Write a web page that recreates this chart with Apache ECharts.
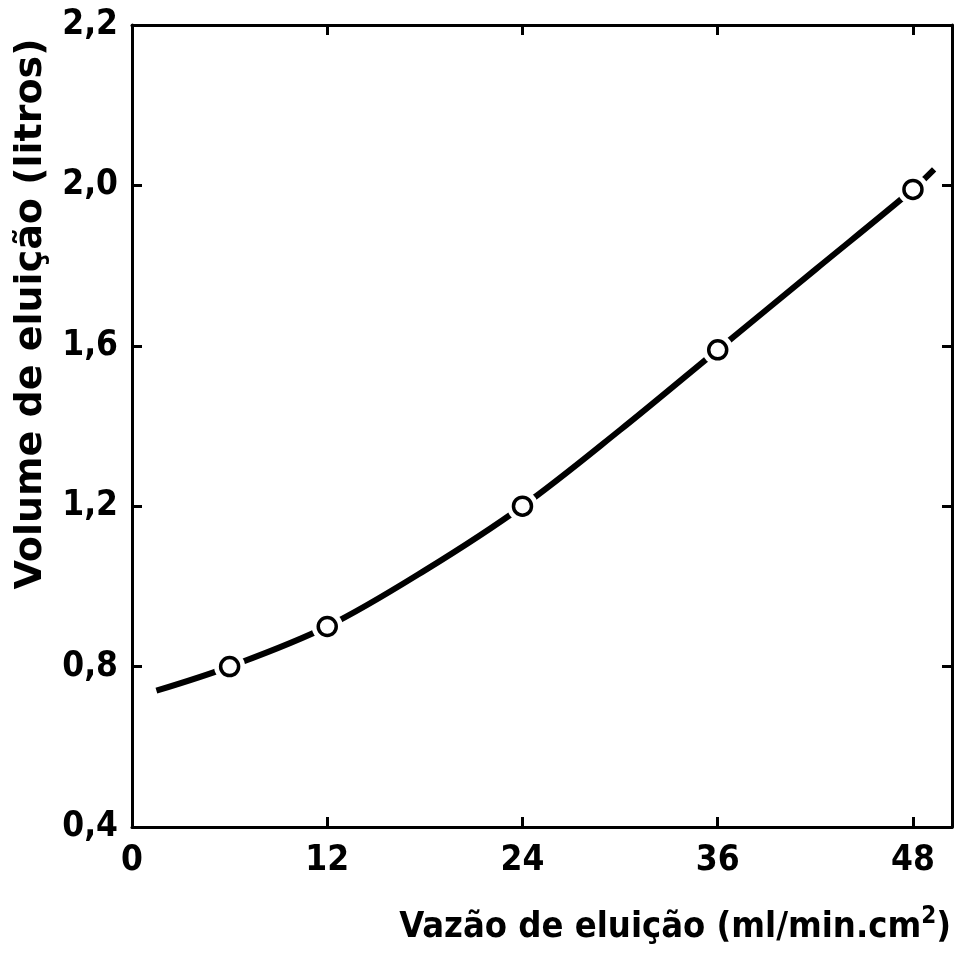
<!DOCTYPE html>
<html>
<head>
<meta charset="utf-8">
<script src="https://cdn.jsdelivr.net/npm/echarts@6/dist/echarts.min.js"></script>
<style>
  html, body { margin: 0; padding: 0; background: #fff; }
  #chart { width: 963px; height: 955px; }
</style>
</head>
<body>
<div id="chart"></div>
<script>
// measured points (open circles)
const flowRates = [6, 12, 24, 36, 48];
const elutionVolumes = [0.80, 0.90, 1.20, 1.59, 1.99];

// the hand-drawn curve, incl. its two loose ends
const curveX = [1.5, 6, 12, 18, 24, 30, 36, 42, 48, 49.3];
const curveY = [0.74, 0.80, 0.90, 1.04, 1.20, 1.39, 1.59, 1.79, 1.99, 2.04];

// tick labels
const xTicks = [0, 12, 24, 36, 48];
const yTicks = [0.4, 0.8, 1.2, 1.6, 2.0, 2.4];
const yTickLabels = ['0,4', '0,8', '1,2', '1,6', '2,0', '2,2']; // top one is printed "2,2" in the original

const FONT = '"DejaVu Sans Condensed", "DejaVu Sans", sans-serif';
const frame = { show: true, onZero: false, lineStyle: { color: '#000', width: 3 } };
const tick = { show: true, inside: true, length: 10, lineStyle: { color: '#000', width: 3 } };
const labelFont = { color: '#000', fontSize: 35, fontWeight: 'bold', fontFamily: FONT };

function xLabel(v) {
  return xTicks.indexOf(v) >= 0 ? String(v) : '';
}
function yLabel(v) {
  const i = yTicks.findIndex(t => Math.abs(t - v) < 1e-6);
  return i >= 0 ? yTickLabels[i] : '';
}

const chart = echarts.init(document.getElementById('chart'), null, { renderer: 'canvas' });

const option = {
  animation: false,
  backgroundColor: '#fff',
  grid: { left: 132, right: 11, top: 25, bottom: 128, containLabel: false },
  xAxis: [
    {
      type: 'value', position: 'bottom', min: 0, max: 50.4, interval: 12,
      axisLine: frame, axisTick: tick, splitLine: { show: false },
      axisLabel: Object.assign({ margin: 16, formatter: xLabel }, labelFont)
    },
    {
      type: 'value', position: 'top', min: 0, max: 50.4, interval: 12,
      axisLine: frame, axisTick: tick, splitLine: { show: false },
      axisLabel: { show: false }
    }
  ],
  yAxis: [
    {
      type: 'value', position: 'left', min: 0.4, max: 2.4, interval: 0.4,
      axisLine: frame, axisTick: tick, splitLine: { show: false },
      axisLabel: Object.assign({ margin: 14, formatter: yLabel }, labelFont)
    },
    {
      type: 'value', position: 'right', min: 0.4, max: 2.4, interval: 0.4,
      axisLine: frame, axisTick: tick, splitLine: { show: false },
      axisLabel: { show: false }
    }
  ],
  series: [
    {
      // the drawn curve
      type: 'line',
      data: curveX.map((x, i) => [x, curveY[i]]),
      smooth: 0.35,
      showSymbol: false,
      silent: true,
      lineStyle: { color: '#000', width: 6, cap: 'butt' },
      z: 2
    },
    {
      // white gap round each circle, like the original drawing
      type: 'scatter',
      data: flowRates.map((x, i) => [x, elutionVolumes[i]]),
      symbol: 'circle',
      symbolSize: 31,
      silent: true,
      itemStyle: { color: '#fff', opacity: 1 },
      z: 3
    },
    {
      type: 'scatter',
      data: flowRates.map((x, i) => [x, elutionVolumes[i]]),
      symbol: 'circle',
      symbolSize: 18,
      silent: true,
      itemStyle: { color: '#fff', borderColor: '#000', borderWidth: 3.5, opacity: 1 },
      z: 4
    }
  ],
  graphic: [
    {
      type: 'text',
      x: 31, y: 314,
      rotation: Math.PI / 2,
      style: {
        text: 'Volume de eluição (litros)',
        font: 'bold 38px "DejaVu Sans", sans-serif',
        fill: '#000',
        align: 'center',
        verticalAlign: 'middle'
      }
    },
    {
      type: 'text',
      x: 951, y: 928,
      style: {
        text: '{a|Vazão de eluição (ml/min.cm}{s|2}{a|)}',
        align: 'right',
        verticalAlign: 'middle',
        fill: '#000',
        rich: {
          a: { fontSize: 36, fontWeight: 'bold', fontFamily: FONT, fill: '#000', lineHeight: 46 },
          s: { fontSize: 24, fontWeight: 'bold', fontFamily: FONT, fill: '#000', verticalAlign: 'top', lineHeight: 46 }
        }
      }
    }
  ]
};

chart.setOption(option);
</script>
</body>
</html>
